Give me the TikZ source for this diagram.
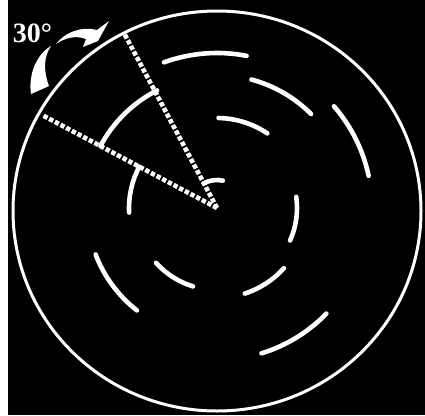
\documentclass[tikz,border=0pt]{standalone}
\usepackage{fontspec}
\setmainfont{Liberation Serif}
\usetikzlibrary{calc}

\begin{document}
\begin{tikzpicture}[
    x=1pt, y=-1pt,
    rim/.style={draw=white, line width=3pt},
    ring/.style={draw=white, line width=4.6pt, line cap=round},
    ray/.style={draw=white, line width=4.6pt, dash pattern=on 4.4pt off 2pt},
    turn/.style={fill=white}
]
    % Background
    \useasboundingbox (0,0) rectangle (425,415);
    \fill[black] (8,0) rectangle (425,415);

    % Outer rim
    \draw[rim] (217,211) ellipse [x radius=204, y radius=200];

    % Centre and ray ends
    \coordinate (O) at (217,208);
    \coordinate (r1) at ($(O)+(-118:197)$);
    \coordinate (r2) at ($(O)+(-152:197)$);

    % Arc segments: radius/start/end
    \foreach \r/\a/\b in {28/78/118,
                          88/152/183, 80/-24/8, 90/-72/-42, 82/222/253, 90/56/89,
                          132/117/152, 133/45/75, 130/201/232,
                          155/79/110, 155/12/41, 152/-73/-44}
        \draw[ring] ($(O)+(-\a:\r)$) arc[start angle=-\a, end angle=-\b, radius=\r];

    % Rays
    \draw[ray] (O) -- (r1);
    \draw[ray] (O) -- (r2);

    % Rotation mark
    \fill[turn] (51,46) .. controls (37,54) and (28,74) .. (31,94)
        -- (49,86) .. controls (43,70) and (44,56) .. (51,46) -- cycle;
    \fill[turn] (56,44) .. controls (65,32) and (82,26) .. (97,30)
        -- (109,21) -- (98,41) -- (83,47) -- (86,39)
        .. controls (75,35) and (65,38) .. (56,44) -- cycle;
    \node[text=white, anchor=base, inner sep=0pt, font=\fontsize{28}{28}\selectfont\bfseries]
        (angle) at (32.5,42) {30°};
\end{tikzpicture}
\end{document}
